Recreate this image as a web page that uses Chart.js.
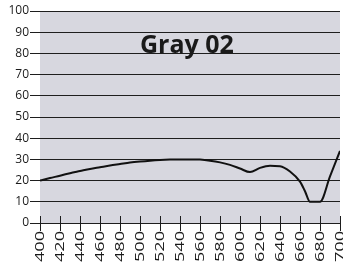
<!DOCTYPE html>
<html><head><meta charset="utf-8">
<script src="https://cdn.jsdelivr.net/npm/chart.js@4/dist/chart.umd.min.js"></script>
<style>html,body{margin:0;padding:0;background:#fff}#wrap{width:343px;height:265px}</style>
</head><body><div id="wrap"><canvas id="c" width="343" height="265"></canvas></div>
<script>
const titleText = "Gray 02";
const wavelengths = [400,410,420,430,440,450,460,470,480,490,500,510,520,530,540,550,560,570,580,590,600,610,620,630,640,650,660,665,670,680,690,700];
const values =      [20,21.2,22.3,23.5,24.5,25.5,26.3,27.1,27.8,28.5,29,29.4,29.7,29.9,30,30,29.9,29.4,28.6,27.4,25.7,24,26,27,26.8,24.3,19.5,15,10,10,22,34];
const xTicks = [400,420,440,460,480,500,520,540,560,580,600,620,640,660,680,700];
const yTicks = [0,10,20,30,40,50,60,70,80,90,100];

const dark = '#1e1e1e';
const bgPlugin = {
  id:'bg',
  beforeDraw(chart){
    const {ctx, chartArea:a} = chart;
    ctx.save(); ctx.fillStyle='#d7d7df';
    ctx.fillRect(a.left, a.top, a.right-a.left, a.bottom-a.top);
    ctx.restore();
  },
  afterDraw(chart){
    const {ctx, chartArea:a, scales} = chart;
    ctx.save();
    ctx.strokeStyle = dark; ctx.lineWidth = 1;
    xTicks.forEach(v=>{
      const x = Math.round(scales.x.getPixelForValue(v))+0.5;
      ctx.beginPath(); ctx.moveTo(x, a.bottom-7); ctx.lineTo(x, a.bottom); ctx.stroke();
    });
    // stretched x tick labels (rotated, reading upward)
    ctx.fillStyle = '#1a1a1a';
    ctx.font = '12.5px "Open Sans"';
    ctx.textAlign = 'right';
    ctx.textBaseline = 'middle';
    xTicks.forEach(v=>{
      const x = scales.x.getPixelForValue(v);
      ctx.save();
      ctx.translate(x+0.5, a.bottom+8);
      ctx.rotate(-Math.PI/2);
      ctx.scale(1.45,1);
      ctx.fillText(String(v), 0, 0);
      ctx.restore();
    });
    ctx.textAlign = 'left';
    ctx.textBaseline = 'alphabetic';
    ctx.font = 'bold 25px "Open Sans"';
    ctx.fillText(titleText, a.left+100, a.top+42);
    ctx.restore();
  }
};

new Chart(document.getElementById('c'), {
  type:'line',
  data:{datasets:[{
    data: wavelengths.map((w,i)=>({x:w,y:values[i]})),
    borderColor:'#111', borderWidth:2, pointRadius:0,
    cubicInterpolationMode:'monotone', fill:false
  }]},
  options:{
    responsive:false, animation:false,
    layout:{padding:{top:11,right:3,left:0,bottom:0}},
    plugins:{legend:{display:false}, tooltip:{enabled:false}, title:{display:false}},
    scales:{
      x:{type:'linear', min:400, max:700,
        afterBuildTicks(s){ s.ticks = xTicks.map(v=>({value:v})); },
        afterFit(s){ s.height = 42; s.paddingLeft = 0; s.paddingRight = 0; },
        border:{display:true, color:dark, width:1},
        grid:{drawOnChartArea:false, drawTicks:true, tickLength:8, color:dark},
        ticks:{minRotation:90, maxRotation:90, padding:1, color:'rgba(0,0,0,0)',
          font:{family:'"Open Sans"', size:12}}
      },
      y:{min:0, max:100,
        afterBuildTicks(s){ s.ticks = yTicks.map(v=>({value:v})); },
        afterFit(s){ s.width = 40; },
        border:{display:false},
        grid:{color:dark, lineWidth:1, drawTicks:true, tickLength:10},
        ticks:{padding:1, color:'#1a1a1a', font:{family:'"Open Sans"', size:12}}
      }
    }
  },
  plugins:[bgPlugin]
});
</script></body></html>
